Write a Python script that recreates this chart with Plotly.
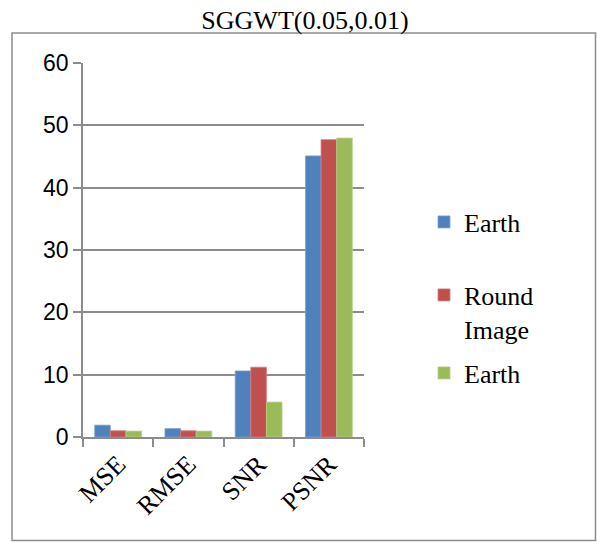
import plotly.graph_objects as go

# Metrics compared for the SGGWT(0.05,0.01) filter
categories = ["MSE", "RMSE", "SNR", "PSNR"]
series_names = ["Earth", "Round<br>Image", "Earth"]
earth_a = [1.9, 1.35, 10.6, 45.1]
round_image = [1.0, 1.0, 11.2, 47.7]
earth_b = [0.95, 0.95, 5.6, 47.95]
y_ticks = [0, 10, 20, 30, 40, 50, 60]

colors = ["#4F81BD", "#C0504D", "#9BBB59"]
edges = ["#7DA1CF", "#D27E7C", "#B6CF86"]

W, H = 597, 542
ML, MR, MT, MB = 83, 233, 63, 105
pw, ph = W - ML - MR, H - MT - MB

SERIF = "Liberation Serif, Times New Roman, serif"


def px_x(px):
    return (px - ML) / pw


def px_y(py):
    return (H - MB - py) / ph


legend_ids = ["legend", "legend2", "legend3"]
legend_centres = [222, 312, 373]

fig = go.Figure()
for name, vals, c, e, lid in zip(series_names, [earth_a, round_image, earth_b],
                                 colors, edges, legend_ids):
    fig.add_trace(go.Bar(
        x=categories, y=vals, name=name, legend=lid,
        marker=dict(color=c, line=dict(color=e, width=0.8)),
    ))

# outer chart frame
fig.add_shape(type="rect", xref="paper", yref="paper",
              x0=px_x(12), x1=px_x(595.5), y0=px_y(540.5), y1=px_y(33),
              line=dict(color="#8C8C8C", width=1.5), fillcolor="rgba(0,0,0,0)")

legend_common = dict(xanchor="left", yanchor="middle", valign="top",
                     font=dict(family=SERIF, size=26, color="black"),
                     itemclick=False, bgcolor="rgba(0,0,0,0)")
legends = {lid: dict(x=px_x(424), y=px_y(cy), **legend_common)
           for lid, cy in zip(legend_ids, legend_centres)}

fig.update_layout(
    width=W, height=H,
    margin=dict(l=ML, r=MR, t=MT, b=MB, pad=0),
    paper_bgcolor="white", plot_bgcolor="white",
    barmode="group", bargap=1.5 / 4.5, bargroupgap=0,
    title=dict(text="SGGWT(0.05,0.01)", x=305 / W, xref="container", xanchor="center",
               y=1 - 20 / H, yref="container", yanchor="middle",
               font=dict(family=SERIF, size=26, color="black")),
    showlegend=True,
    xaxis=dict(
        tickson="boundaries", ticks="outside", ticklen=8, tickwidth=1.5,
        tickcolor="#8C8C8C", showline=True, linecolor="#8C8C8C", linewidth=1.5,
        showgrid=False, tickangle=-45,
        tickfont=dict(family=SERIF, size=26, color="black"),
    ),
    yaxis=dict(
        range=[0, 60], tickvals=y_ticks, ticks="outside", ticklen=8, tickwidth=1.5,
        tickcolor="#8C8C8C", showline=True, linecolor="#8C8C8C", linewidth=1.5,
        showgrid=True, gridcolor="#8C8C8C", gridwidth=1.5, zeroline=False,
        tickfont=dict(family="Liberation Sans", size=23, color="black"),
    ),
    **legends,
)

fig.write_html("out.html")
